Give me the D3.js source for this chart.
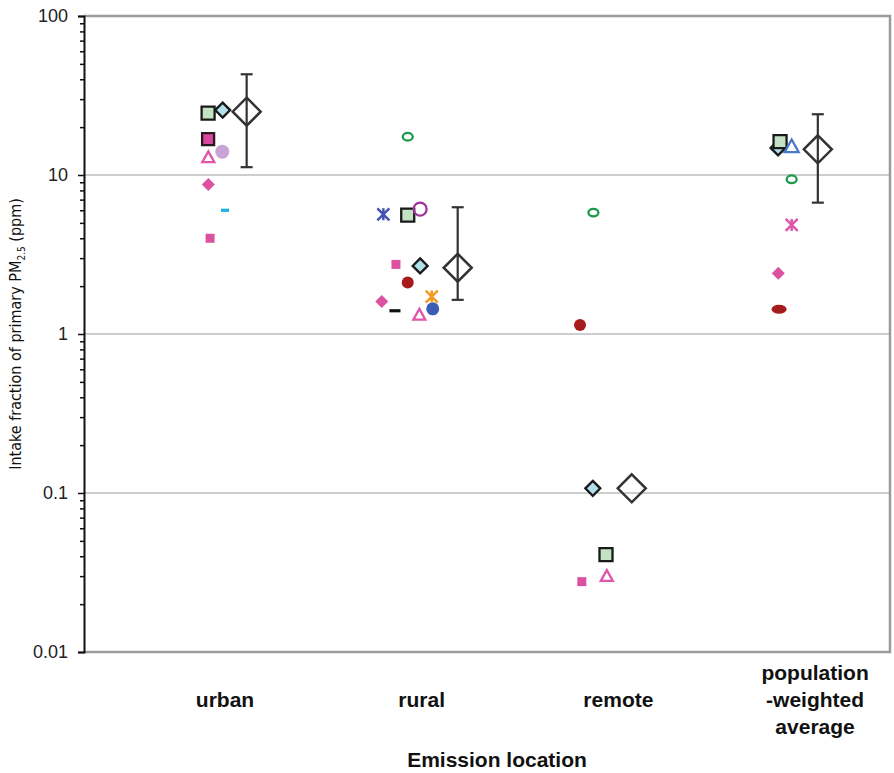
<!DOCTYPE html>
<html>
<head>
<meta charset="utf-8">
<script src="https://cdn.jsdelivr.net/npm/d3@7"></script>
<style>
  body { margin: 0; background: #fff; }
  text { font-family: "Liberation Sans", Arial, sans-serif; fill: #111; }
</style>
</head>
<body>
<div id="chart"></div>
<script>
// Emission locations (x categories)
var categories = ["urban", "rural", "remote", "population-weighted average"];
var yTicks = [0.01, 0.1, 1, 10, 100];

// Intake fraction (ppm) per study, one value per location (null = not reported)
var greenSquare   = [24.5, 5.6, 0.041, 16.2];
var blueDiamond   = [25.6, 2.68, 0.107, 14.8];
var magentaSquare = [16.8, null, null, null];
var pinkTriangle  = [12.9, 1.32, 0.030, null];
var lilacCircle   = [14.0, null, null, null];
var pinkDiamond   = [8.7, 1.6, null, 2.41];
var cyanDash      = [6.0, null, null, null];
var pinkSquare    = [4.0, 2.74, 0.0277, null];
var greenRing     = [null, 17.4, 5.8, 9.4];
var blueCross     = [null, 5.66, null, null];
var purpleRing    = [null, 6.1, null, null];
var redDot        = [null, 2.11, 1.14, 1.43];
var blackDash     = [null, 1.40, null, null];
var orangeStar    = [null, 1.72, null, null];
var blueDot       = [null, 1.44, null, null];
var blueTriangle  = [null, null, null, 15.1];
var pinkStar      = [null, null, null, 4.85];

// central estimate and range
var meanValue = [25, 2.61, 0.107, 14.5];
var rangeLow  = [11.2, 1.64, null, 6.7];
var rangeHigh = [43, 6.27, null, 24.1];

// marker look + horizontal offset within each location (category units)
var series = [
  { v: blueDiamond,   shape: "diamond",  s: 15, fill: "#b2e0ea", stroke: "#1a1a1a", dx: [-0.012, -0.008, -0.13, -0.188] },
  { v: greenSquare,   shape: "square",   s: 13, fill: "#c4e2c4", stroke: "#1a1a1a", dx: [-0.086, -0.071, -0.063, -0.178] },
  { v: magentaSquare, shape: "square",   s: 12, fill: "#d9489c", stroke: "#2a1a22", dx: [-0.086, 0, 0, 0] },
  { v: lilacCircle,   shape: "circle",   s: 14, fill: "#c9a3d6", stroke: "none",    dx: [-0.014, 0, 0, 0] },
  { v: pinkTriangle,  shape: "triangle", s: 12, fill: "#fff",    stroke: "#e056aa", dx: [-0.085, -0.012, -0.059, 0] },
  { v: pinkDiamond,   shape: "diamond",  s: 13, fill: "#dc52a2", stroke: "none",    dx: [-0.085, -0.203, 0, -0.187] },
  { v: cyanDash,      shape: "dash",     s: 8,  fill: "#1cb0e6", stroke: "none",    dx: [0, 0, 0, 0] },
  { v: pinkSquare,    shape: "square",   s: 9,  fill: "#dc52a2", stroke: "none",    dx: [-0.076, -0.131, -0.186, 0] },
  { v: greenRing,     shape: "ellipse",  s: 12, fill: "none",    stroke: "#1b9a4c", dx: [0, -0.071, -0.127, -0.119] },
  { v: blueCross,     shape: "star",     s: 12, fill: "none",    stroke: "#4452b4", dx: [0, -0.195, 0, 0] },
  { v: purpleRing,    shape: "circle",   s: 15, fill: "none",    stroke: "#a2329c", dx: [0, -0.008, 0, 0] },
  { v: redDot,        shape: "circle",   s: 12, fill: "#a61c1c", stroke: "none",    dx: [0, -0.071, -0.195, -0.183] },
  { v: blackDash,     shape: "dash",     s: 11, fill: "#111",    stroke: "none",    dx: [0, -0.136, 0, 0] },
  { v: blueDot,       shape: "circle",   s: 13, fill: "#3c5db6", stroke: "none",    dx: [0, 0.056, 0, 0] },
  { v: orangeStar,    shape: "star",     s: 12, fill: "none",    stroke: "#f29a1f", dx: [0, 0.051, 0, 0] },
  { v: blueTriangle,  shape: "triangle", s: 14, fill: "#fff",    stroke: "#4a78c8", dx: [0, 0, 0, -0.119] },
  { v: pinkStar,      shape: "star",     s: 12, fill: "none",    stroke: "#e056aa", dx: [0, 0, 0, -0.119] }
];
var meanDx = [0.11, 0.183, 0.068, 0.014];

var W = 894, H = 773;
var plotLeft = 84, plotRight = 890, plotTop = 16, plotBottom = 652;

var svg = d3.select("#chart").append("svg")
    .attr("width", W)
    .attr("height", H);

var x = d3.scaleLinear().domain([-0.717, 3.381]).range([plotLeft, plotRight]);
var y = d3.scaleLog().domain([0.01, 100]).range([plotBottom, plotTop]);

// gridlines
svg.append("g").selectAll("line")
    .data([0.1, 1, 10])
    .enter().append("line")
    .attr("x1", plotLeft).attr("x2", plotRight)
    .attr("y1", function(d) { return y(d); })
    .attr("y2", function(d) { return y(d); })
    .style("stroke", "#bdbdbd")
    .style("stroke-width", 1.5);

// grey frame (top, right, bottom)
svg.append("path")
    .attr("d", "M" + plotLeft + "," + plotTop + "H" + plotRight + "V" + plotBottom + "H" + plotLeft)
    .style("fill", "none")
    .style("stroke", "#9a9a9a")
    .style("stroke-width", 2.5);

// minor ticks
var minors = [];
[0.01, 0.1, 1, 10].forEach(function(b) {
  for (var k = 2; k <= 9; k++) minors.push(b * k);
});
svg.append("g")
    .attr("transform", "translate(" + plotLeft + ",0)")
    .call(d3.axisLeft(y).tickValues(minors).tickSize(4).tickFormat(""))
    .call(function(g) { g.select(".domain").remove(); })
    .selectAll("line").style("stroke", "#111").style("stroke-width", 1.5);

// major ticks + labels
var yAxis = svg.append("g")
    .attr("transform", "translate(" + plotLeft + ",0)")
    .call(d3.axisLeft(y).tickValues(yTicks).tickSize(6).tickPadding(10)
      .tickFormat(function(d) { return d >= 1 ? d3.format("d")(d) : String(d); }));
yAxis.select(".domain").style("stroke", "#111").style("stroke-width", 2);
yAxis.selectAll("line").style("stroke", "#111").style("stroke-width", 1.5);
yAxis.selectAll("text")
    .style("font-size", "18px")
    .style("font-family", "Liberation Sans, Arial, sans-serif")
    .style("fill", "#222");

// y axis title
var yt = svg.append("text")
    .attr("transform", "translate(21," + ((plotTop + plotBottom) / 2) + ") rotate(-90)")
    .attr("text-anchor", "middle")
    .style("font-family", "'Liberation Sans Narrow', 'Arial Narrow', 'DejaVu Sans Condensed', sans-serif")
    .style("font-size", "16px");
yt.append("tspan").text("Intake fraction of primary PM");
yt.append("tspan").attr("dy", 4).style("font-size", "10px").text("2.5");
yt.append("tspan").attr("dy", -4).text(" (ppm)");

// x category labels
var labelLines = [["urban"], ["rural"], ["remote"], ["population", "-weighted", "average"]];
labelLines.forEach(function(lines, i) {
  var t = svg.append("text")
      .attr("x", x(i))
      .attr("text-anchor", "middle")
      .style("font-weight", "bold")
      .style("font-size", "21px");
  var y0 = lines.length > 1 ? 680 : 707;
  lines.forEach(function(s, j) {
    t.append("tspan").attr("x", x(i)).attr("y", y0 + j * 27).text(s);
  });
});

svg.append("text")
    .attr("x", 497)
    .attr("y", 767)
    .attr("text-anchor", "middle")
    .style("font-weight", "bold")
    .style("font-size", "21px")
    .text("Emission location");

// marker paths
function shapePath(shape, s) {
  var h = s / 2;
  if (shape === "square") return "M" + (-h) + "," + (-h) + "h" + s + "v" + s + "h" + (-s) + "Z";
  if (shape === "diamond") return "M0," + (-h) + "L" + h + ",0L0," + h + "L" + (-h) + ",0Z";
  if (shape === "triangle") return "M0," + (-h) + "L" + h + "," + (h * 0.8) + "L" + (-h) + "," + (h * 0.8) + "Z";
  if (shape === "dash") return "M" + (-h) + ",-1.6h" + s + "v3.2h" + (-s) + "Z";
  if (shape === "star") return "M" + (-h) + "," + (-h) + "L" + h + "," + h + "M" + h + "," + (-h) + "L" + (-h) + "," + h + "M0," + (-h) + "V" + h;
  return null;
}

series.forEach(function(sr) {
  sr.v.forEach(function(val, i) {
    if (val == null) return;
    var cx = x(i + sr.dx[i]), cy = y(val);
    var m;
    if (sr.shape === "circle") {
      // the averaged red point is drawn as a flattened dot in the reference
      var rx = sr.stroke !== "none" ? sr.s / 2 - 1 : sr.s / 2;
      m = svg.append("ellipse").attr("cx", cx).attr("cy", cy)
          .attr("rx", (sr.v === redDot && i === 3) ? rx + 1.5 : rx)
          .attr("ry", (sr.v === redDot && i === 3) ? rx - 1.5 : rx);
    } else if (sr.shape === "ellipse") {
      m = svg.append("ellipse").attr("cx", cx).attr("cy", cy)
          .attr("rx", sr.s / 2 - 1).attr("ry", sr.s / 2 - 2.2);
    } else {
      m = svg.append("path").attr("d", shapePath(sr.shape, sr.s))
          .attr("transform", "translate(" + cx + "," + cy + ")");
    }
    m.style("fill", sr.fill)
     .style("stroke", sr.stroke)
     .style("stroke-width", sr.stroke === "none" ? 0 : (sr.shape === "star" ? 2.5 : 2.3));
  });
});

// range bars and central estimate
meanValue.forEach(function(val, i) {
  var cx = x(i + meanDx[i]);
  if (rangeLow[i] != null) {
    var g = svg.append("g").style("stroke", "#333").style("stroke-width", 2.2);
    g.append("line").attr("x1", cx).attr("x2", cx).attr("y1", y(rangeHigh[i])).attr("y2", y(rangeLow[i]));
    g.append("line").attr("x1", cx - 6).attr("x2", cx + 6).attr("y1", y(rangeHigh[i])).attr("y2", y(rangeHigh[i]));
    g.append("line").attr("x1", cx - 6).attr("x2", cx + 6).attr("y1", y(rangeLow[i])).attr("y2", y(rangeLow[i]));
  }
  svg.append("path")
      .attr("d", shapePath("diamond", 28))
      .attr("transform", "translate(" + cx + "," + y(val) + ")")
      .style("fill", "none")
      .style("stroke", "#333")
      .style("stroke-width", 2.5);
});
</script>
</body>
</html>
